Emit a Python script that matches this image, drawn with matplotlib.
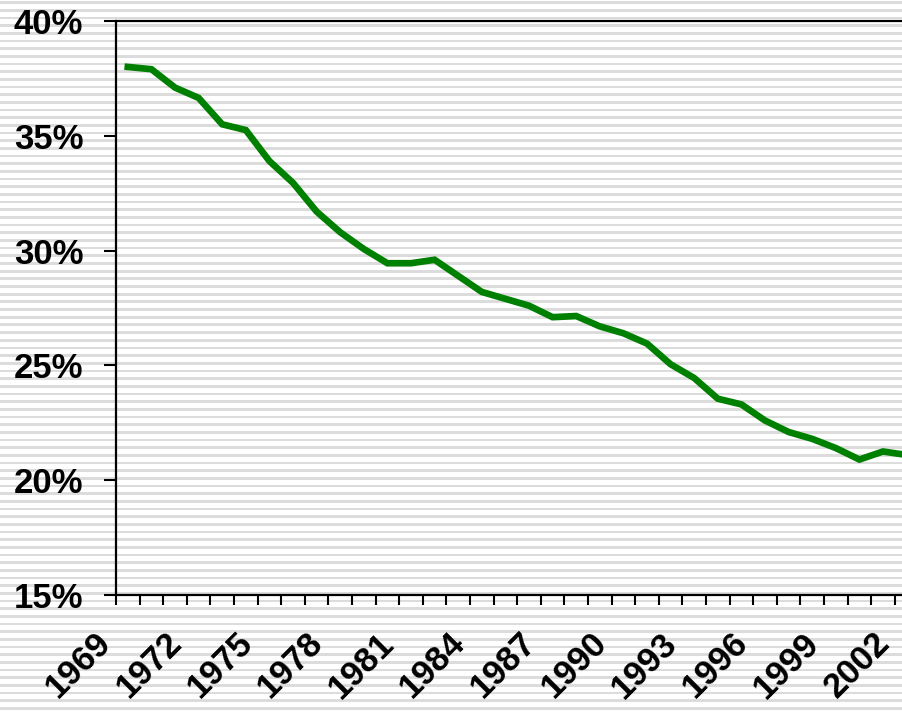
import numpy as np
import matplotlib
matplotlib.use('Agg')
import matplotlib.pyplot as plt
from matplotlib.ticker import FuncFormatter
from matplotlib.transforms import ScaledTranslation

years = list(range(1969, 2002 + 1))
share = [38.0, 37.9, 37.1, 36.65, 35.5, 35.25, 33.9, 32.95, 31.7, 30.8,
         30.07, 29.45, 29.45, 29.6, 28.9, 28.2, 27.9, 27.6, 27.1, 27.15,
         26.7, 26.4, 25.95, 25.05, 24.45, 23.55, 23.3, 22.6, 22.1, 21.8,
         21.4, 20.9, 21.25, 21.1]
label_years = years[::3]
yticks = [15, 20, 25, 30, 35, 40]

plt.rcParams['font.family'] = ['Liberation Sans', 'DejaVu Sans']
plt.rcParams['font.weight'] = 'bold'

W, H = 902, 711
fig = plt.figure(figsize=(W / 100, H / 100), dpi=100)

# striped background over the whole picture
bg = fig.add_axes([0, 0, 1, 1], zorder=-10)
bg.set_xlim(0, W)
bg.set_ylim(H, 0)
bg.axis('off')
for yc in np.arange(2.7, H + 8, 7.67):
    bg.axhspan(yc - 1.35, yc + 1.35, color='#dcdcdc', lw=0)

# category width 23.6 px; the plot area runs past the right edge of the picture
step = 23.6
ax = fig.add_axes([116 / W, 116 / H, len(years) * step / W, (595 - 21) / H])
ax.patch.set_alpha(0)

x = np.arange(len(years))
ax.plot(x, share, color='#008000', linewidth=4.8, solid_joinstyle='miter')

ax.set_yticks(yticks)
ax.yaxis.set_major_formatter(FuncFormatter(lambda v, p: '%d%%' % v))
ax.tick_params(axis='y', direction='out', length=8.6, width=1.5, pad=15, labelsize=25)

ax.set_xticks(np.arange(len(years) + 1) - 0.5)
ax.set_xticklabels([])
ax.tick_params(axis='x', which='major', direction='out', length=7.2, width=1.5)
ax.set_xticks([years.index(yr) for yr in label_years], minor=True)
ax.set_xticklabels([str(yr) for yr in label_years], minor=True,
                   rotation=45, ha='right', va='center', rotation_mode='anchor')
ax.tick_params(axis='x', which='minor', length=0, pad=31, labelsize=25)
shift = ScaledTranslation(-0.22, 0, fig.dpi_scale_trans)
for lab in ax.get_xticklabels(minor=True):
    lab.set_transform(lab.get_transform() + shift)

ax.set_xlim(-0.5, len(years) - 0.5)
ax.set_ylim(15, 40)

for side in ['left', 'bottom', 'top']:
    ax.spines[side].set_linewidth(1.6)
ax.spines['right'].set_visible(False)

fig.savefig('out.png', dpi=100)
